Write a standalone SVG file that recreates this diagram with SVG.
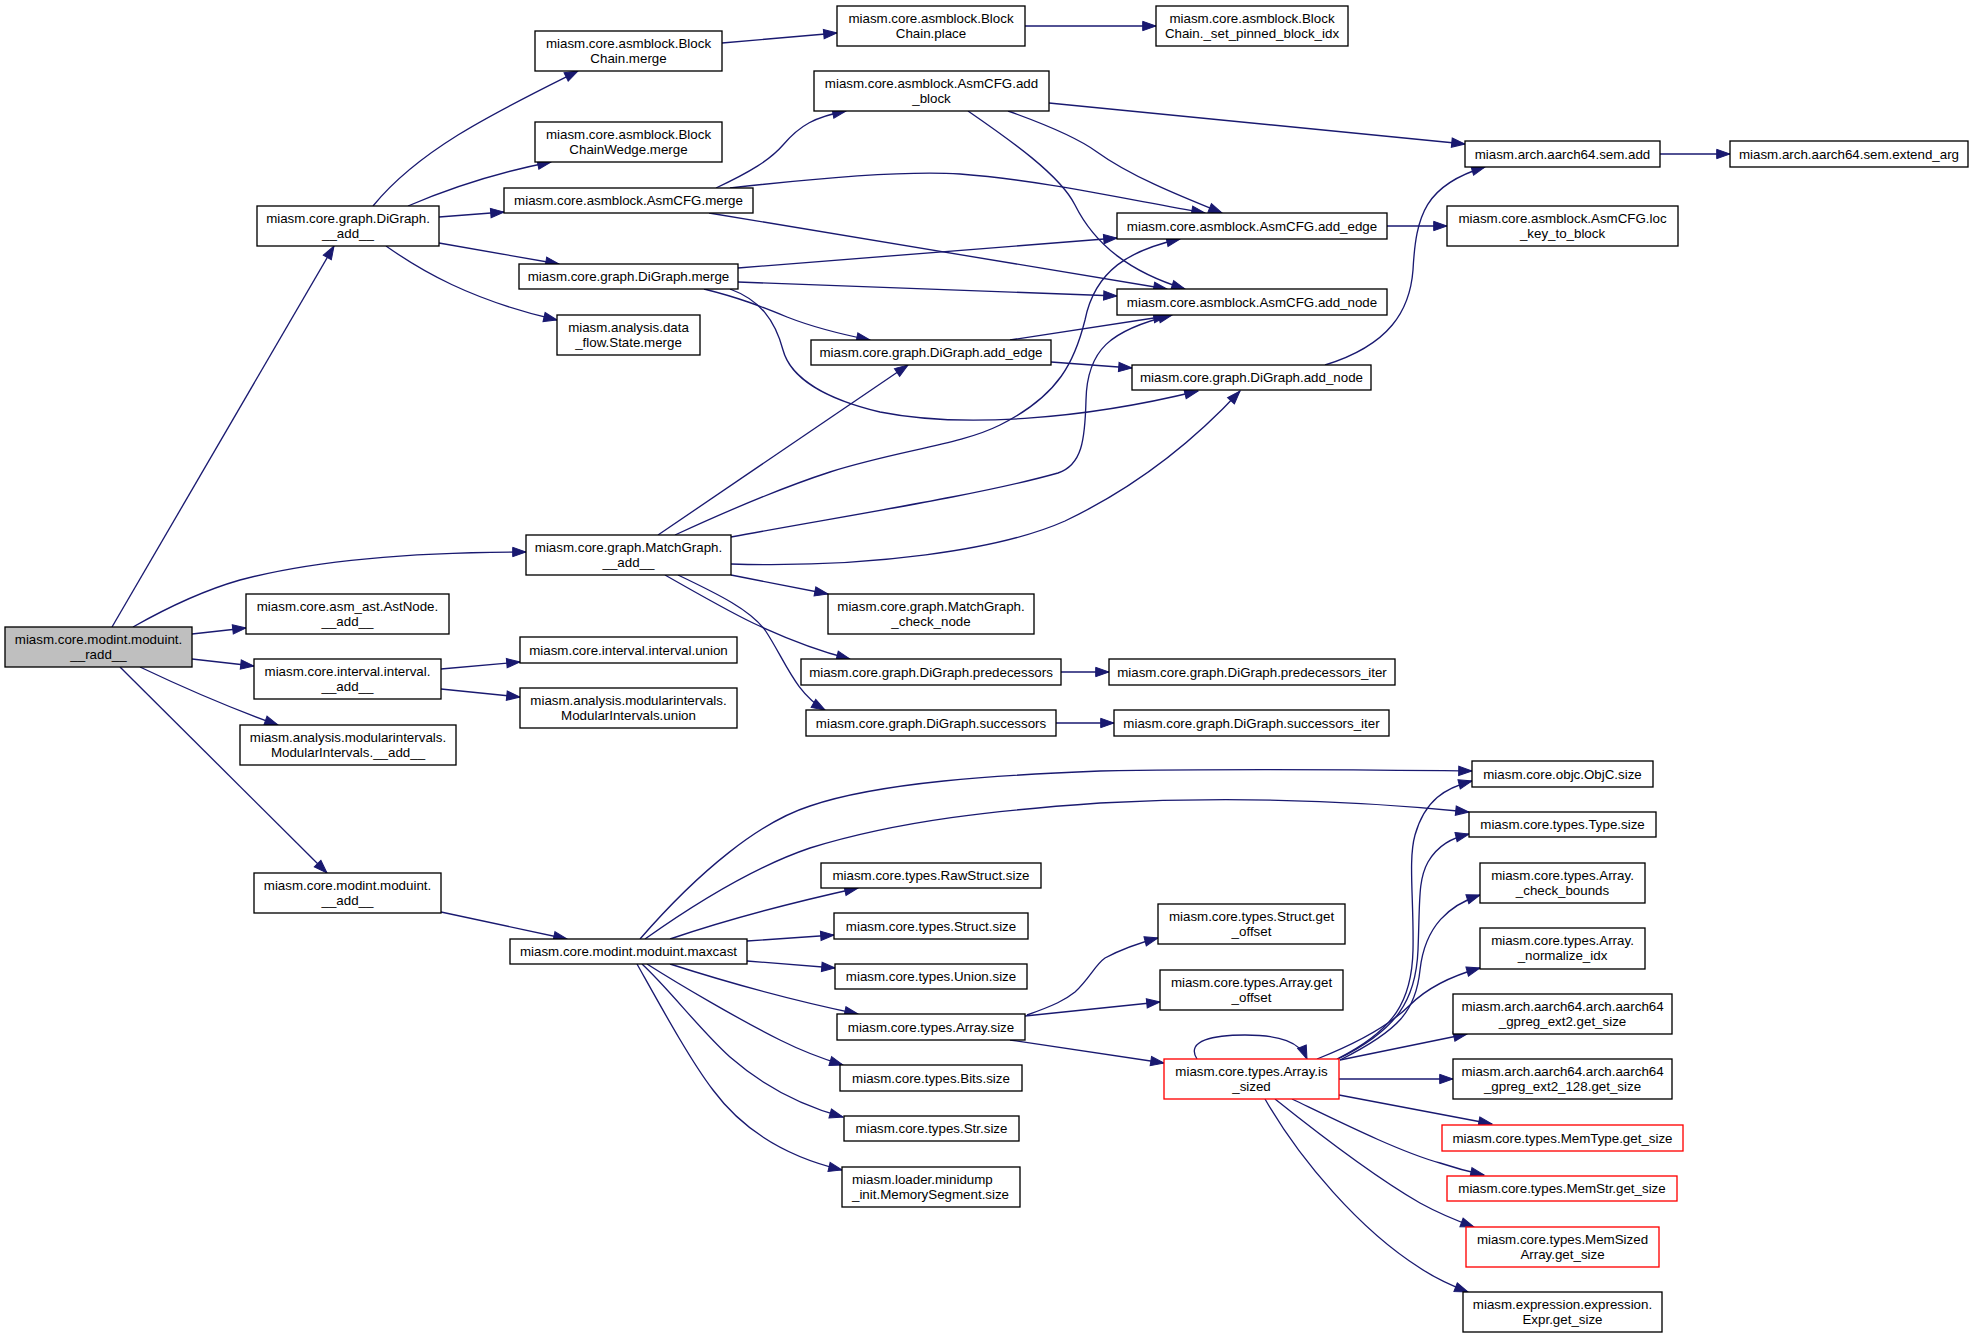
<svg xmlns="http://www.w3.org/2000/svg" width="1973" height="1339" viewBox="0 0 1973 1339">
<defs>
<style>
.n rect{fill:#ffffff;stroke:#000000;stroke-width:1.33}
.n.root rect{fill:#bfbfbf}
.n.red rect{stroke:#ff0000}
.n text{font-family:"Liberation Sans",Arial,Helvetica,sans-serif;font-size:13.33px;fill:#000000;text-anchor:middle}
.n text.l{text-anchor:start}
#edges path{fill:none;stroke:#191970;stroke-width:1.33;marker-end:url(#a)}
</style>
<marker id="a" markerUnits="userSpaceOnUse" markerWidth="15" markerHeight="11" viewBox="-1 -1 15 11" refX="13.3" refY="4.67" orient="auto" overflow="visible">
<path d="M0,0 L13.3,4.67 L0,9.33 z" fill="#191970" stroke="#191970" stroke-width="1"/>
</marker>
</defs>
<rect x="0" y="0" width="1973" height="1339" fill="#ffffff"/>
<g id="edges">
<path d="M112,627 L334,246"/>
<path d="M133,627 C170,606 205,590 240,580 C330,556 440,552 526,552"/>
<path d="M192,634 L246,628"/>
<path d="M192,659 L254,666"/>
<path d="M140,667 C180,686 230,708 278,725"/>
<path d="M120,667 L327,873"/>
<path d="M373,206 C420,148 500,110 578,71"/>
<path d="M408,206 C450,188 500,172 551,162"/>
<path d="M439,217 L504,212"/>
<path d="M439,243 L559,264"/>
<path d="M386,246 C420,270 470,300 557,320"/>
<path d="M722,43 L837,33"/>
<path d="M1025,26 L1156,26"/>
<path d="M716,188 C750,172 770,160 783,145 C800,125 815,117 846,111"/>
<path d="M730,188 C800,180 900,170 960,174 C1040,180 1120,198 1205,213"/>
<path d="M709,213 L1167,289"/>
<path d="M1049,103 L1465,144"/>
<path d="M1008,111 C1050,126 1078,138 1097,152 C1130,176 1180,196 1222,213"/>
<path d="M968,111 C1010,140 1060,175 1075,205 C1095,245 1130,272 1185,289"/>
<path d="M738,268 L1117,238"/>
<path d="M738,282 L1117,296"/>
<path d="M704,289 C740,298 760,306 787,317 C815,328 840,334 870,340"/>
<path d="M730,289 C760,300 775,320 783,350 C791,380 830,400 880,412 C960,428 1080,420 1198,391"/>
<path d="M1010,340 L1167,316"/>
<path d="M1051,362 L1132,368"/>
<path d="M1325,365 C1390,345 1410,310 1413,270 C1416,215 1425,185 1485,167"/>
<path d="M1387,226 L1447,226"/>
<path d="M1660,154 L1730,154"/>
<path d="M658,535 L908,365"/>
<path d="M675,535 C740,505 790,485 830,472 C900,450 960,445 1000,425 C1060,395 1075,360 1085,320 C1095,270 1130,250 1180,239"/>
<path d="M731,537 C850,515 980,495 1058,473 C1082,465 1085,440 1086,400 C1087,350 1110,330 1172,315"/>
<path d="M731,564 C870,568 1000,550 1065,521 C1130,490 1190,445 1240,391"/>
<path d="M731,575 L828,594"/>
<path d="M665,575 C700,595 730,612 753,623 C785,638 815,650 850,659"/>
<path d="M678,575 C720,595 750,610 765,630 C785,660 795,693 825,710"/>
<path d="M1061,672 L1109,672"/>
<path d="M1056,723 L1114,723"/>
<path d="M441,669 L520,662"/>
<path d="M441,689 L520,697"/>
<path d="M441,912 L567,939"/>
<path d="M640,939 C700,870 760,822 810,806 C880,782 1000,775 1100,771 C1250,768 1380,770 1472,771"/>
<path d="M645,939 C700,900 760,865 810,848 C900,820 1000,810 1100,803 C1250,795 1380,803 1469,812"/>
<path d="M670,939 C720,922 790,903 858,888"/>
<path d="M747,941 L834,935"/>
<path d="M747,961 L835,968"/>
<path d="M670,964 C720,980 790,1000 858,1014"/>
<path d="M647,964 C680,985 740,1020 780,1040 C800,1050 820,1058 843,1065"/>
<path d="M642,964 C670,990 700,1030 730,1057 C770,1092 810,1108 843,1117"/>
<path d="M637,964 C660,1005 690,1060 713,1090 C750,1140 800,1160 842,1170"/>
<path d="M1027,1015 C1055,1005 1065,1000 1075,992 C1090,978 1095,965 1105,958 C1120,950 1135,944 1158,938"/>
<path d="M1025,1016 L1160,1002"/>
<path d="M1010,1040 L1164,1063"/>
<path d="M1197,1059 C1185,1040 1215,1035 1245,1035 C1280,1035 1300,1042 1307,1059"/>
<path d="M1337,1059 C1395,1030 1412,1000 1413,950 C1414,900 1408,860 1415,835 C1425,800 1445,788 1472,781"/>
<path d="M1338,1059 C1397,1030 1416,1000 1418,950 C1420,900 1418,880 1428,862 C1438,845 1452,838 1469,834"/>
<path d="M1340,1060 C1400,1030 1416,1010 1420,970 C1425,925 1450,905 1480,895"/>
<path d="M1317,1059 C1360,1042 1390,1025 1410,1005 C1430,985 1455,975 1480,968"/>
<path d="M1340,1060 L1467,1034"/>
<path d="M1339,1079 L1453,1079"/>
<path d="M1339,1095 L1492,1124"/>
<path d="M1292,1099 C1340,1122 1400,1152 1440,1163 C1455,1168 1470,1172 1484,1175"/>
<path d="M1275,1099 C1320,1135 1380,1180 1420,1203 C1440,1214 1455,1220 1474,1227"/>
<path d="M1265,1099 C1300,1160 1360,1230 1420,1268 C1435,1278 1450,1285 1468,1292"/>
</g>
<g id="node-root" class="n root"><rect x="5" y="627" width="187" height="40"/><text x="98.5" y="643.5">miasm.core.modint.moduint.</text><text x="98.5" y="658.5">__radd__</text></g>
<g id="node-digraph-add" class="n"><rect x="257" y="206" width="182" height="40"/><text x="348" y="222.5">miasm.core.graph.DiGraph.</text><text x="348" y="237.5">__add__</text></g>
<g id="node-blockchain-merge" class="n"><rect x="535" y="31" width="187" height="40"/><text x="628.5" y="47.5">miasm.core.asmblock.Block</text><text x="628.5" y="62.5">Chain.merge</text></g>
<g id="node-blockchainwedge-merge" class="n"><rect x="535" y="122" width="187" height="40"/><text x="628.5" y="138.5">miasm.core.asmblock.Block</text><text x="628.5" y="153.5">ChainWedge.merge</text></g>
<g id="node-asmcfg-merge" class="n"><rect x="504" y="188" width="249" height="25"/><text x="628.5" y="205">miasm.core.asmblock.AsmCFG.merge</text></g>
<g id="node-digraph-merge" class="n"><rect x="519" y="264" width="219" height="25"/><text x="628.5" y="281">miasm.core.graph.DiGraph.merge</text></g>
<g id="node-state-merge" class="n"><rect x="557" y="315" width="143" height="40"/><text x="628.5" y="331.5">miasm.analysis.data</text><text x="628.5" y="346.5">_flow.State.merge</text></g>
<g id="node-blockchain-place" class="n"><rect x="837" y="6" width="188" height="40"/><text x="931" y="22.5">miasm.core.asmblock.Block</text><text x="931" y="37.5">Chain.place</text></g>
<g id="node-set-pinned" class="n"><rect x="1156" y="6" width="192" height="40"/><text x="1252" y="22.5">miasm.core.asmblock.Block</text><text x="1252" y="37.5">Chain._set_pinned_block_idx</text></g>
<g id="node-add-block" class="n"><rect x="814" y="71" width="235" height="40"/><text x="931.5" y="87.5">miasm.core.asmblock.AsmCFG.add</text><text x="931.5" y="102.5">_block</text></g>
<g id="node-asmcfg-add-edge" class="n"><rect x="1117" y="213" width="270" height="26"/><text x="1252" y="230.5">miasm.core.asmblock.AsmCFG.add_edge</text></g>
<g id="node-asmcfg-add-node" class="n"><rect x="1117" y="289" width="270" height="26"/><text x="1252" y="306.5">miasm.core.asmblock.AsmCFG.add_node</text></g>
<g id="node-digraph-add-edge" class="n"><rect x="811" y="340" width="240" height="25"/><text x="931" y="357">miasm.core.graph.DiGraph.add_edge</text></g>
<g id="node-digraph-add-node" class="n"><rect x="1132" y="365" width="239" height="25"/><text x="1251.5" y="382">miasm.core.graph.DiGraph.add_node</text></g>
<g id="node-sem-add" class="n"><rect x="1465" y="141" width="195" height="26"/><text x="1562.5" y="158.5">miasm.arch.aarch64.sem.add</text></g>
<g id="node-extend-arg" class="n"><rect x="1730" y="141" width="238" height="26"/><text x="1849" y="158.5">miasm.arch.aarch64.sem.extend_arg</text></g>
<g id="node-loc-key" class="n"><rect x="1447" y="206" width="231" height="40"/><text x="1562.5" y="222.5">miasm.core.asmblock.AsmCFG.loc</text><text x="1562.5" y="237.5">_key_to_block</text></g>
<g id="node-matchgraph-add" class="n"><rect x="526" y="535" width="205" height="40"/><text x="628.5" y="551.5">miasm.core.graph.MatchGraph.</text><text x="628.5" y="566.5">__add__</text></g>
<g id="node-astnode-add" class="n"><rect x="246" y="594" width="203" height="40"/><text x="347.5" y="610.5">miasm.core.asm_ast.AstNode.</text><text x="347.5" y="625.5">__add__</text></g>
<g id="node-interval-add" class="n"><rect x="254" y="659" width="187" height="40"/><text x="347.5" y="675.5">miasm.core.interval.interval.</text><text x="347.5" y="690.5">__add__</text></g>
<g id="node-interval-union" class="n"><rect x="520" y="637" width="217" height="26"/><text x="628.5" y="654.5">miasm.core.interval.interval.union</text></g>
<g id="node-modint-union" class="n"><rect x="520" y="688" width="217" height="40"/><text x="628.5" y="704.5">miasm.analysis.modularintervals.</text><text x="628.5" y="719.5">ModularIntervals.union</text></g>
<g id="node-modint-add" class="n"><rect x="240" y="725" width="216" height="40"/><text x="348" y="741.5">miasm.analysis.modularintervals.</text><text x="348" y="756.5">ModularIntervals.__add__</text></g>
<g id="node-moduint-add" class="n"><rect x="254" y="873" width="187" height="40"/><text x="347.5" y="889.5">miasm.core.modint.moduint.</text><text x="347.5" y="904.5">__add__</text></g>
<g id="node-maxcast" class="n"><rect x="510" y="939" width="237" height="25"/><text x="628.5" y="956">miasm.core.modint.moduint.maxcast</text></g>
<g id="node-check-node" class="n"><rect x="828" y="594" width="206" height="40"/><text x="931" y="610.5">miasm.core.graph.MatchGraph.</text><text x="931" y="625.5">_check_node</text></g>
<g id="node-predecessors" class="n"><rect x="801" y="659" width="260" height="26"/><text x="931" y="676.5">miasm.core.graph.DiGraph.predecessors</text></g>
<g id="node-predecessors-iter" class="n"><rect x="1109" y="659" width="286" height="26"/><text x="1252" y="676.5">miasm.core.graph.DiGraph.predecessors_iter</text></g>
<g id="node-successors" class="n"><rect x="806" y="710" width="250" height="26"/><text x="931" y="727.5">miasm.core.graph.DiGraph.successors</text></g>
<g id="node-successors-iter" class="n"><rect x="1114" y="710" width="275" height="26"/><text x="1251.5" y="727.5">miasm.core.graph.DiGraph.successors_iter</text></g>
<g id="node-objc-size" class="n"><rect x="1472" y="761" width="181" height="26"/><text x="1562.5" y="778.5">miasm.core.objc.ObjC.size</text></g>
<g id="node-type-size" class="n"><rect x="1469" y="812" width="187" height="25"/><text x="1562.5" y="829">miasm.core.types.Type.size</text></g>
<g id="node-check-bounds" class="n"><rect x="1480" y="863" width="165" height="40"/><text x="1562.5" y="879.5">miasm.core.types.Array.</text><text x="1562.5" y="894.5">_check_bounds</text></g>
<g id="node-normalize-idx" class="n"><rect x="1480" y="928" width="165" height="41"/><text x="1562.5" y="944.5">miasm.core.types.Array.</text><text x="1562.5" y="959.5">_normalize_idx</text></g>
<g id="node-ext2" class="n"><rect x="1453" y="994" width="219" height="40"/><text x="1562.5" y="1010.5">miasm.arch.aarch64.arch.aarch64</text><text x="1562.5" y="1025.5">_gpreg_ext2.get_size</text></g>
<g id="node-ext2-128" class="n"><rect x="1453" y="1059" width="219" height="40"/><text x="1562.5" y="1075.5">miasm.arch.aarch64.arch.aarch64</text><text x="1562.5" y="1090.5">_gpreg_ext2_128.get_size</text></g>
<g id="node-memtype" class="n red"><rect x="1442" y="1125" width="241" height="26"/><text x="1562.5" y="1142.5">miasm.core.types.MemType.get_size</text></g>
<g id="node-memstr" class="n red"><rect x="1447" y="1176" width="230" height="25"/><text x="1562" y="1193">miasm.core.types.MemStr.get_size</text></g>
<g id="node-memsizedarray" class="n red"><rect x="1466" y="1227" width="193" height="40"/><text x="1562.5" y="1243.5">miasm.core.types.MemSized</text><text x="1562.5" y="1258.5">Array.get_size</text></g>
<g id="node-expr" class="n"><rect x="1463" y="1292" width="199" height="40"/><text x="1562.5" y="1308.5">miasm.expression.expression.</text><text x="1562.5" y="1323.5">Expr.get_size</text></g>
<g id="node-rawstruct" class="n"><rect x="821" y="863" width="220" height="25"/><text x="931" y="880">miasm.core.types.RawStruct.size</text></g>
<g id="node-struct-size" class="n"><rect x="834" y="913" width="194" height="26"/><text x="931" y="930.5">miasm.core.types.Struct.size</text></g>
<g id="node-union-size" class="n"><rect x="835" y="964" width="192" height="25"/><text x="931" y="981">miasm.core.types.Union.size</text></g>
<g id="node-array-size" class="n"><rect x="837" y="1014" width="188" height="26"/><text x="931" y="1031.5">miasm.core.types.Array.size</text></g>
<g id="node-bits-size" class="n"><rect x="840" y="1065" width="182" height="26"/><text x="931" y="1082.5">miasm.core.types.Bits.size</text></g>
<g id="node-str-size" class="n"><rect x="844" y="1116" width="175" height="25"/><text x="931.5" y="1133">miasm.core.types.Str.size</text></g>
<g id="node-memsegment" class="n"><rect x="842" y="1167" width="178" height="40"/><text class="l" x="852" y="1183.5">miasm.loader.minidump</text><text class="l" x="852" y="1198.5">_init.MemorySegment.size</text></g>
<g id="node-struct-get-offset" class="n"><rect x="1158" y="904" width="187" height="40"/><text x="1251.5" y="920.5">miasm.core.types.Struct.get</text><text x="1251.5" y="935.5">_offset</text></g>
<g id="node-array-get-offset" class="n"><rect x="1160" y="970" width="183" height="40"/><text x="1251.5" y="986.5">miasm.core.types.Array.get</text><text x="1251.5" y="1001.5">_offset</text></g>
<g id="node-is-sized" class="n red"><rect x="1164" y="1059" width="175" height="40"/><text x="1251.5" y="1075.5">miasm.core.types.Array.is</text><text x="1251.5" y="1090.5">_sized</text></g>
</svg>
